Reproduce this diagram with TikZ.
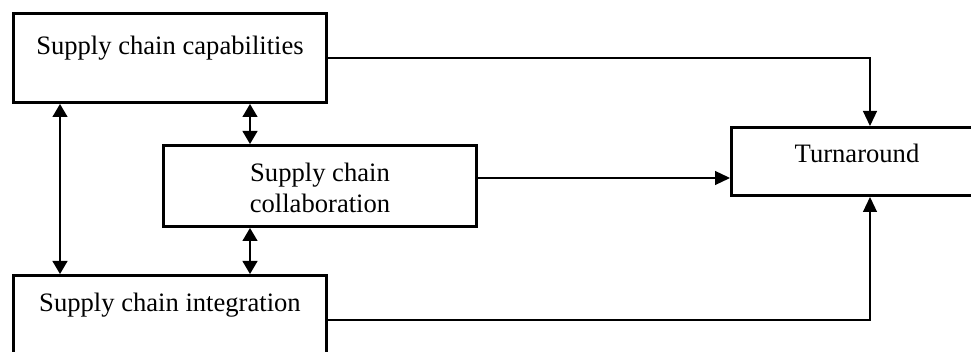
\documentclass[tikz,border=0pt]{standalone}
\usepackage{fontspec}
\setmainfont{Liberation Serif}
\usetikzlibrary{arrows.meta}

\tikzset{
  box/.style={draw=black, line width=3pt, rectangle, inner sep=0pt, minimum width=313pt},
  lbl/.style={font=\fontsize{26.6pt}{31pt}\selectfont, align=center, inner sep=0pt},
  conn/.style={draw=black, line width=1.2pt, -{Triangle[length=15pt,width=14pt]}},
  biconn/.style={draw=black, line width=1.2pt, {Triangle[length=13pt,width=15pt]}-{Triangle[length=13pt,width=15pt]}}
}

\begin{document}
\begin{tikzpicture}[x=1pt,y=-1pt]
  \useasboundingbox (0,0) rectangle (971,352);

  % boxes
  \node[box, minimum height=89pt] (cap) at (170,58) {};
  \node[box, minimum height=81pt] (collab) at (320,186) {};
  \node[box, minimum width=252pt, minimum height=68pt] (turn) at (857.5,161.5) {};
  \node[box, minimum height=89pt] (integ) at (170,320) {};

  % box texts
  \node[lbl] (capT) at (170,48) {Supply chain capabilities};
  \node[lbl] (collabT) at (320,188) {Supply chain\\collaboration};
  \node[lbl] (turnT) at (857,153) {Turnaround};
  \node[lbl] (integT) at (170,305) {Supply chain integration};

  % links into the outcome box
  \draw[conn] (cap.east) -| ([xshift=12.5pt]turn.north);
  \draw[conn] ([yshift=8pt]collab.east) -- ([yshift=8pt]collab.east -| turn.west);
  \draw[conn] (integ.east) -| ([xshift=12.5pt]turn.south);

  % mutual links among the three supply chain factors
  \draw[biconn] ([xshift=-110pt]cap.south) -- ([xshift=-110pt]integ.north);
  \draw[biconn] ([xshift=80pt]cap.south) -- ([xshift=-70pt]collab.north);
  \draw[biconn] ([xshift=-70pt]collab.south) -- ([xshift=80pt]integ.north);
\end{tikzpicture}
\end{document}
